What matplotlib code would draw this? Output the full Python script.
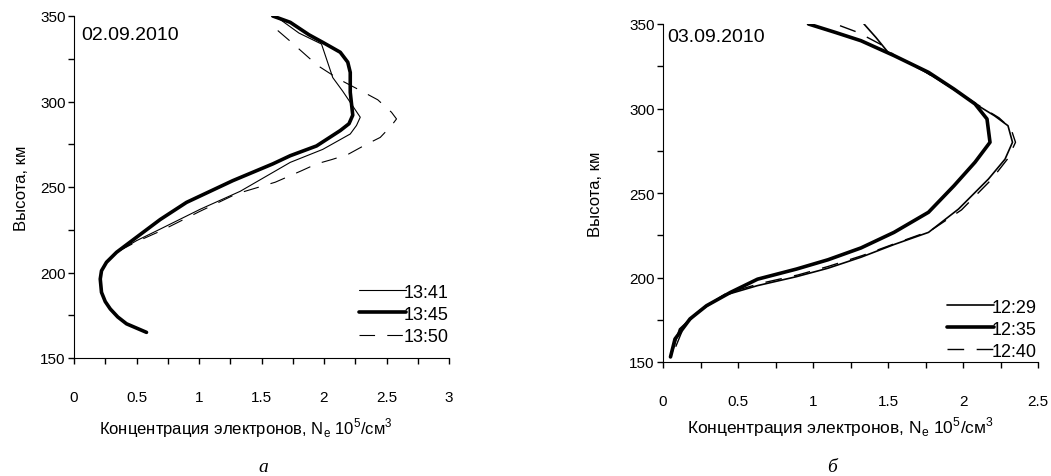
import matplotlib
matplotlib.use('Agg')
import matplotlib.pyplot as plt
from matplotlib.ticker import MultipleLocator, FormatStrFormatter

plt.rcParams['font.family'] = 'Liberation Sans'
plt.rcParams['mathtext.fontset'] = 'custom'
plt.rcParams['mathtext.rm'] = 'Liberation Sans'
plt.rcParams['lines.solid_joinstyle'] = 'round'
plt.rcParams['lines.solid_capstyle'] = 'round'

# panel a, 02.09.2010
a_labels = ['13:41', '13:45', '13:50']
a41_x = [1.62, 1.80, 1.98, 2.07, 2.15, 2.21, 2.29, 2.26, 2.21, 1.99, 1.73, 1.33, 1.01, 0.69, 0.50, 0.34]
a41_h = [349.5, 340, 333.6, 314, 306, 299.5, 290.8, 286, 281, 272, 264.4, 247.5, 237, 225.4, 218.6, 211.8]
a45_x = [1.59, 1.73, 1.88, 1.99, 2.13, 2.19, 2.21, 2.21, 2.23, 2.20, 2.13, 1.94, 1.73, 1.59, 1.27, 0.90,
         0.69, 0.50, 0.34, 0.26, 0.22, 0.21, 0.22, 0.25, 0.29, 0.35, 0.42, 0.58]
a45_h = [350, 346.3, 339, 334.6, 328.8, 323, 317, 305.4, 292, 287, 283, 274, 268.3, 263.5, 253.7, 241,
         231, 220.6, 211.8, 206, 201, 196.2, 188.4, 183, 178.7, 174, 170, 165]
a50_x = [1.63, 1.74, 1.86, 1.95, 2.12, 2.31, 2.43, 2.54, 2.58, 2.54, 2.45, 2.33, 2.19, 2.06, 1.94,
         1.82, 1.61, 1.30, 1.00, 0.70, 0.50, 0.34]
a50_h = [341.5, 334.6, 326.8, 321, 313, 305.7, 301, 293.7, 289.8, 285.9, 279, 274.6, 269, 266, 263.5,
         259.5, 252.8, 246, 235.5, 224.5, 218, 211.8]

# panel b, 03.09.2010
b_labels = ['12:29', '12:35', '12:40']
b29_x = [1.34, 1.42, 1.50, 1.72, 1.90, 2.10, 2.21, 2.30, 2.33, 2.28, 2.17, 1.97, 1.77, 1.54, 1.32,
         1.10, 0.89, 0.63, 0.40, 0.23, 0.11, 0.06]
b29_h = [350, 342, 333.3, 323.4, 313.5, 301.7, 295.7, 289.8, 280, 270, 258.3, 240.5, 226.7, 219.5, 212,
         205.5, 200.5, 195.2, 189.2, 179.4, 169.5, 155.7]
b35_x = [0.97, 1.15, 1.32, 1.54, 1.77, 1.94, 2.08, 2.16, 2.18, 2.08, 1.94, 1.77, 1.54, 1.32, 1.10,
         0.89, 0.63, 0.45, 0.29, 0.18, 0.08, 0.05]
b35_h = [350, 345, 340.1, 331.3, 321.4, 311.5, 302.7, 293.8, 280, 268.2, 254.3, 238.6, 226.7, 217.5, 210.5,
         205, 199, 191.2, 183.3, 175.5, 163.6, 153]
b40_x = [1.18, 1.30, 1.45, 1.55, 1.74, 1.92, 2.12, 2.24, 2.32, 2.35, 2.30, 2.19, 1.99, 1.78, 1.56,
         1.33, 1.10, 0.90, 0.65, 0.42, 0.25, 0.14, 0.08]
b40_h = [349, 345, 338, 331, 322, 312.5, 301, 294.5, 288, 280, 270.5, 258, 240, 227.5, 220.5,
         213, 206.5, 201.5, 196.5, 190.5, 181, 171, 158]

fig = plt.figure(figsize=(10.51, 4.77), dpi=100)
W, H = 1051, 477

xlab = r'Концентрация электронов, N$_\mathregular{e}$ 10$^\mathregular{5}$/см$^\mathregular{3}$'


def setup(ax, xmax, lsize, lpad):
    for s in ['top', 'right']:
        ax.spines[s].set_visible(False)
    ax.set_xlim(0, xmax)
    ax.set_ylim(150, 350)
    ax.xaxis.set_major_locator(MultipleLocator(0.5))
    ax.xaxis.set_minor_locator(MultipleLocator(0.25))
    ax.yaxis.set_major_locator(MultipleLocator(50))
    ax.yaxis.set_minor_locator(MultipleLocator(25))
    ax.xaxis.set_major_formatter(FormatStrFormatter('%g'))
    ax.tick_params(which='both', direction='out', length=4, width=1, labelsize=11, pad=19)
    ax.tick_params(axis='y', which='both', pad=2)
    ax.set_ylabel('Высота, км', fontsize=12)
    ax.set_xlabel(xlab, fontsize=lsize, labelpad=lpad)


ax1 = fig.add_axes([74 / W, 1 - 359 / H, 375 / W, 342 / H])
setup(ax1, 3, 12, 8)
ax1.plot(a41_x, a41_h, color='black', lw=0.8, label=a_labels[0])
ax1.plot(a45_x, a45_h, color='black', lw=2.6, label=a_labels[1])
ax1.plot(a50_x, a50_h, color='black', lw=0.8, ls=(0, (14, 11)), label=a_labels[2])
ax1.text(0.02, 0.947, '02.09.2010', transform=ax1.transAxes, fontsize=14, va='center')
ax1.legend(loc='lower right', bbox_to_anchor=(1.024, 0.012), frameon=False, fontsize=13,
           handlelength=2.6, handletextpad=-0.1, labelspacing=0.28, borderpad=0)
ax1.yaxis.set_label_coords(-0.12, 0.5)
ax1.xaxis.label.set_x(0.459)

ax2 = fig.add_axes([663 / W, 1 - 363 / H, 375 / W, 338 / H])
setup(ax2, 2.5, 12.5, 5)
ax2.plot(b29_x, b29_h, color='black', lw=1.2, label=b_labels[0])
ax2.plot(b35_x, b35_h, color='black', lw=2.6, label=b_labels[1])
ax2.plot(b40_x, b40_h, color='black', lw=1.0, ls=(0, (12, 9)), label=b_labels[2])
ax2.text(0.01, 0.962, '03.09.2010', transform=ax2.transAxes, fontsize=14, va='center')
ax2.legend(loc='lower right', bbox_to_anchor=(1.021, -0.02), frameon=False, fontsize=13,
           handlelength=2.6, handletextpad=-0.1, labelspacing=0.28, borderpad=0)
ax2.yaxis.set_label_coords(-0.159, 0.5)
ax2.xaxis.label.set_x(0.472)

fig.text(263 / W, 1 - 472 / H, 'а', fontsize=14, family='Liberation Serif', style='italic', ha='center', va='baseline')
fig.text(832 / W, 1 - 472 / H, 'б', fontsize=14, family='Liberation Serif', style='italic', ha='center', va='baseline')

fig.savefig('out.png', dpi=100)
